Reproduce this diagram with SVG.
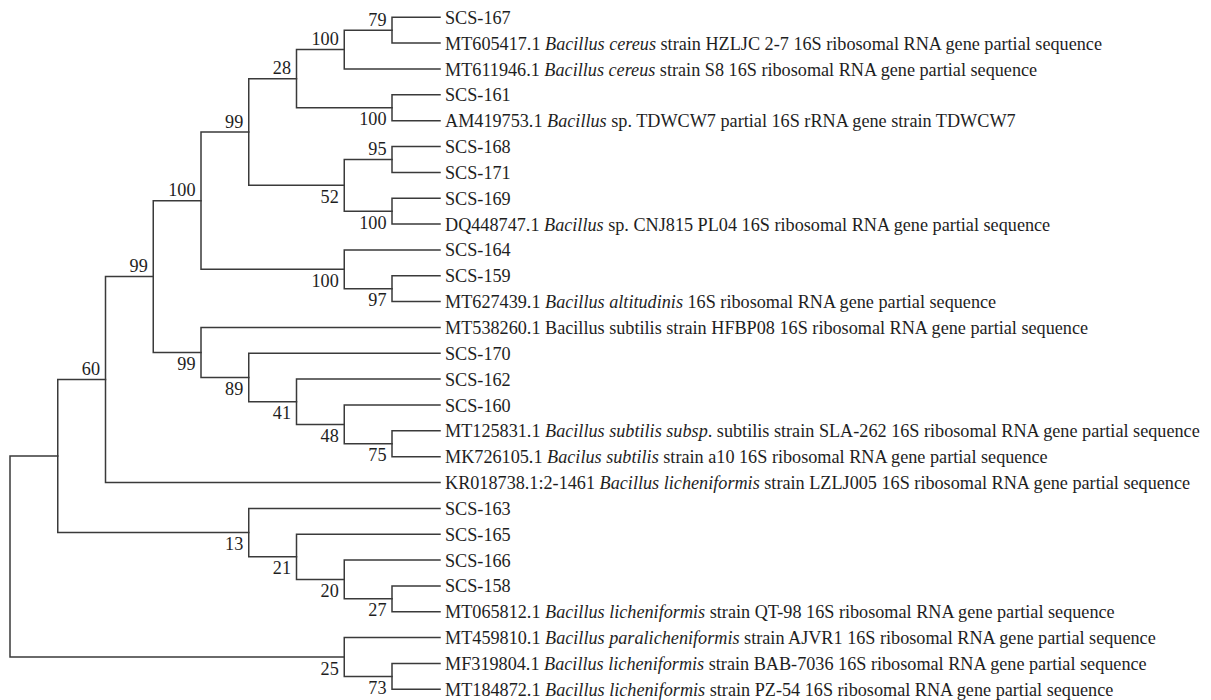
<svg xmlns="http://www.w3.org/2000/svg" width="1211" height="700" viewBox="0 0 1211 700">
<style>
.e{fill:none;stroke:#3a3a3a;stroke-width:1.5;stroke-linejoin:miter;stroke-linecap:square}
.t{font-family:'Liberation Serif','Times New Roman','DejaVu Serif',serif;font-size:18.2px;fill:#1e1e1e}
.b{text-anchor:end}
.i{font-style:italic}
</style>
<rect width="1211" height="700" fill="#fff"/>
<g id="connectors">
<path class="e" d="M440 17.3H392V43.1H440"/>
<path class="e" d="M392 30.2H344.25V69H440"/>
<path class="e" d="M440 94.8H392V120.7H440"/>
<path class="e" d="M344.25 49.6H296.5V107.8H392"/>
<path class="e" d="M440 146.5H392V172.4H440"/>
<path class="e" d="M440 198.2H392V224.1H440"/>
<path class="e" d="M392 159.5H344.25V211.2H392"/>
<path class="e" d="M296.5 78.7H248.75V185.3H344.25"/>
<path class="e" d="M440 275.8H392V301.6H440"/>
<path class="e" d="M440 249.9H344.25V288.7H392"/>
<path class="e" d="M248.75 132H201V269.3H344.25"/>
<path class="e" d="M440 430.8H392V456.7H440"/>
<path class="e" d="M440 405H344.25V443.8H392"/>
<path class="e" d="M440 379.1H296.5V424.4H344.25"/>
<path class="e" d="M440 353.3H248.75V401.8H296.5"/>
<path class="e" d="M440 327.5H201V377.5H248.75"/>
<path class="e" d="M201 200.7H153.25V352.5H201"/>
<path class="e" d="M153.25 276.6H105.5V482.5H440"/>
<path class="e" d="M440 585.9H392V611.8H440"/>
<path class="e" d="M440 560.1H344.25V598.8H392"/>
<path class="e" d="M440 534.2H296.5V579.5H344.25"/>
<path class="e" d="M440 508.4H248.75V556.8H296.5"/>
<path class="e" d="M105.5 379.6H57.75V532.6H248.75"/>
<path class="e" d="M440 663.5H392V689.3H440"/>
<path class="e" d="M440 637.6H344.25V676.4H392"/>
<path class="e" d="M57.75 456.1H10V657H344.25"/>
</g>
<g class="t" font-family="Liberation Serif, Times New Roman, serif">
<g id="n79"><text class="b" x="386.5" y="25.8">79</text></g>
<g id="n100a"><text class="b" x="338.75" y="45.2">100</text></g>
<g id="n100b"><text class="b" x="386.5" y="125.3">100</text></g>
<g id="n28"><text class="b" x="291" y="74.3">28</text></g>
<g id="n95"><text class="b" x="386.5" y="155.1">95</text></g>
<g id="n100c"><text class="b" x="386.5" y="228.7">100</text></g>
<g id="n52"><text class="b" x="338.75" y="202.8">52</text></g>
<g id="n99a"><text class="b" x="243.25" y="127.6">99</text></g>
<g id="n97"><text class="b" x="386.5" y="306.2">97</text></g>
<g id="n100d"><text class="b" x="338.75" y="286.8">100</text></g>
<g id="n100e"><text class="b" x="195.5" y="196.3">100</text></g>
<g id="n75"><text class="b" x="386.5" y="461.3">75</text></g>
<g id="n48"><text class="b" x="338.75" y="441.9">48</text></g>
<g id="n41"><text class="b" x="291" y="419.3">41</text></g>
<g id="n89"><text class="b" x="243.25" y="395">89</text></g>
<g id="n99b"><text class="b" x="195.5" y="370">99</text></g>
<g id="n99c"><text class="b" x="147.75" y="272.2">99</text></g>
<g id="n60"><text class="b" x="100" y="375.2">60</text></g>
<g id="n27"><text class="b" x="386.5" y="616.3">27</text></g>
<g id="n20"><text class="b" x="338.75" y="597">20</text></g>
<g id="n21"><text class="b" x="291" y="574.3">21</text></g>
<g id="n13"><text class="b" x="243.25" y="550.1">13</text></g>
<g id="n73"><text class="b" x="386.5" y="693.9">73</text></g>
<g id="n25"><text class="b" x="338.75" y="674.5">25</text></g>
<g id="leaf-SCS-167"><text x="445" y="23.8">SCS-167</text></g>
<g id="leaf-MT605417"><text x="445" y="49.6">MT605417.1 <tspan class="i">Bacillus cereus</tspan> strain HZLJC 2-7 16S ribosomal RNA gene partial sequence</text></g>
<g id="leaf-MT611946"><text x="445" y="75.5">MT611946.1 <tspan class="i">Bacillus cereus</tspan> strain S8 16S ribosomal RNA gene partial sequence</text></g>
<g id="leaf-SCS-161"><text x="445" y="101.3">SCS-161</text></g>
<g id="leaf-AM419753"><text x="445" y="127.2">AM419753.1 <tspan class="i">Bacillus</tspan> sp. TDWCW7 partial 16S rRNA gene strain TDWCW7</text></g>
<g id="leaf-SCS-168"><text x="445" y="153">SCS-168</text></g>
<g id="leaf-SCS-171"><text x="445" y="178.9">SCS-171</text></g>
<g id="leaf-SCS-169"><text x="445" y="204.7">SCS-169</text></g>
<g id="leaf-DQ448747"><text x="445" y="230.6">DQ448747.1 <tspan class="i">Bacillus</tspan> sp. CNJ815 PL04 16S ribosomal RNA gene partial sequence</text></g>
<g id="leaf-SCS-164"><text x="445" y="256.4">SCS-164</text></g>
<g id="leaf-SCS-159"><text x="445" y="282.3">SCS-159</text></g>
<g id="leaf-MT627439"><text x="445" y="308.1">MT627439.1 <tspan class="i">Bacillus altitudinis</tspan> 16S ribosomal RNA gene partial sequence</text></g>
<g id="leaf-MT538260"><text x="445" y="334">MT538260.1 Bacillus subtilis strain HFBP08 16S ribosomal RNA gene partial sequence</text></g>
<g id="leaf-SCS-170"><text x="445" y="359.8">SCS-170</text></g>
<g id="leaf-SCS-162"><text x="445" y="385.6">SCS-162</text></g>
<g id="leaf-SCS-160"><text x="445" y="411.5">SCS-160</text></g>
<g id="leaf-MT125831"><text x="445" y="437.3">MT125831.1 <tspan class="i">Bacillus subtilis subsp</tspan>. subtilis strain SLA-262 16S ribosomal RNA gene partial sequence</text></g>
<g id="leaf-MK726105"><text x="445" y="463.2">MK726105.1 <tspan class="i">Bacilus subtilis</tspan> strain a10 16S ribosomal RNA gene partial sequence</text></g>
<g id="leaf-KR018738"><text x="445" y="489">KR018738.1:2-1461 <tspan class="i">Bacillus licheniformis</tspan> strain LZLJ005 16S ribosomal RNA gene partial sequence</text></g>
<g id="leaf-SCS-163"><text x="445" y="514.9">SCS-163</text></g>
<g id="leaf-SCS-165"><text x="445" y="540.7">SCS-165</text></g>
<g id="leaf-SCS-166"><text x="445" y="566.6">SCS-166</text></g>
<g id="leaf-SCS-158"><text x="445" y="592.4">SCS-158</text></g>
<g id="leaf-MT065812"><text x="445" y="618.3">MT065812.1 <tspan class="i">Bacillus licheniformis</tspan> strain QT-98 16S ribosomal RNA gene partial sequence</text></g>
<g id="leaf-MT459810"><text x="445" y="644.1">MT459810.1 <tspan class="i">Bacillus paralicheniformis</tspan> strain AJVR1 16S ribosomal RNA gene partial sequence</text></g>
<g id="leaf-MF319804"><text x="445" y="670">MF319804.1 <tspan class="i">Bacillus licheniformis</tspan> strain BAB-7036 16S ribosomal RNA gene partial sequence</text></g>
<g id="leaf-MT184872"><text x="445" y="695.8">MT184872.1 <tspan class="i">Bacillus licheniformis</tspan> strain PZ-54 16S ribosomal RNA gene partial sequence</text></g>
</g>
</svg>
